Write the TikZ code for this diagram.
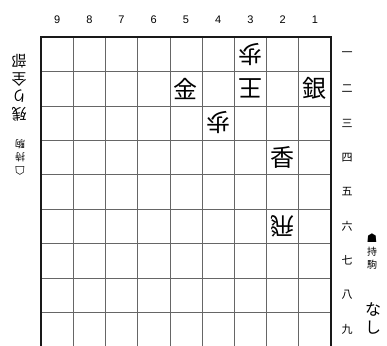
\documentclass[tikz,border=0pt]{standalone}
\usepackage{fontspec}
\setmainfont{Liberation Sans}
\newfontfamily\jp{Noto Sans CJK JP}
\newfontfamily\symf{DejaVu Sans}
\begin{document}
\begin{tikzpicture}[x=1pt,y=-1pt,
  grid/.style={draw=black!60,line width=0.6pt},
  frame/.style={draw=black!90,line width=1.1pt},
  piece/.style={font=\jp\fontsize{24}{24}\selectfont,inner sep=0pt},
  gpiece/.style={piece,rotate=180},
  collab/.style={font=\fontsize{11}{11}\selectfont,inner sep=0pt},
  rowlab/.style={font=\jp\fontsize{11}{11}\selectfont,inner sep=0pt}]
\useasboundingbox (0,0) rectangle (387,345);
\clip (0,0) rectangle (387,345);
\fill[white] (0,0) rectangle (387,345);
\def\X{41}\def\W{32.22}\def\Y{37}\def\H{34.4}
% grid
\foreach \i in {1,...,8}{
  \draw[grid] ({\X+\i*\W},\Y) -- ({\X+\i*\W},{\Y+9*\H});
  \draw[grid] (\X,{\Y+\i*\H}) -- ({\X+9*\W},{\Y+\i*\H});
}
\draw[frame] (\X,{\Y+9*\H}) -- (\X,\Y) -- ({\X+9*\W},\Y) -- ({\X+9*\W},{\Y+9*\H});
% column numbers
\foreach \n in {9,...,1}{
  \node[collab] (c\n) at ({\X+(9-\n+0.5)*\W},20) {\n};
}
% row labels
\foreach \k/\t in {1/一,2/二,3/三,4/四,5/五,6/六,7/七,8/八,9/九}{
  \node[rowlab] (r\k) at (347,{\Y+(\k-0.5)*\H}) {\t};
}
% pieces
\node[gpiece] (p31) at ({\X+6.5*\W},{\Y+0.5*\H}) {歩};
\node[piece]  (p52) at ({\X+4.5*\W},{\Y+1.5*\H}) {金};
\node[gpiece] (p32) at ({\X+6.5*\W},{\Y+1.5*\H}) {王};
\node[piece]  (p12) at ({\X+8.5*\W},{\Y+1.5*\H}) {銀};
\node[gpiece] (p43) at ({\X+5.5*\W},{\Y+2.5*\H}) {歩};
\node[piece]  (p24) at ({\X+7.5*\W},{\Y+3.5*\H}) {香};
\node[gpiece] (p26) at ({\X+7.5*\W},{\Y+5.5*\H}) {飛};
% gote hand (upside down)
\node[rotate=180,align=center,inner sep=0pt,font=\jp\fontsize{15}{17.5}\selectfont] (gh) at (19,88) {残\\り\\全\\部};
\node[rotate=180,align=center,inner sep=0pt,font=\jp\fontsize{10}{13}\selectfont] (gk) at (20,157) {{\symf\fontsize{12}{12}\selectfont ☖}\\持\\駒};
% sente hand
\node[align=center,inner sep=0pt,font=\jp\fontsize{10}{13}\selectfont] (sk) at (372,252) {{\symf\fontsize{12}{12}\selectfont ☗}\\持\\駒};
\node[align=center,inner sep=0pt,font=\jp\fontsize{16}{18}\selectfont] (sh) at (373,318) {な\\し};
\end{tikzpicture}
\end{document}
